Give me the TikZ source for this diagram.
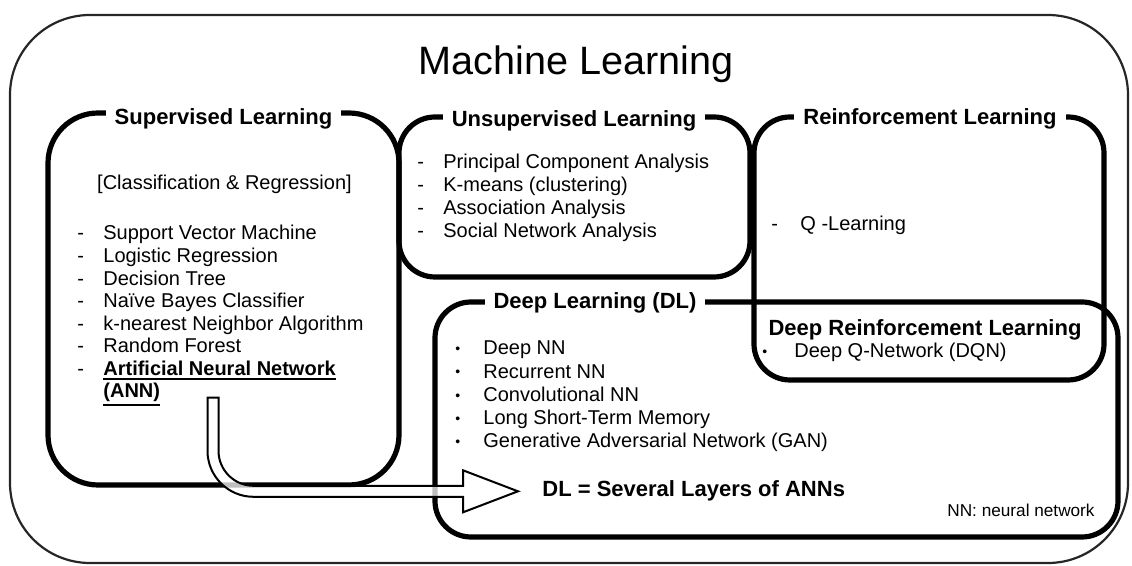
\documentclass[tikz,border=0pt]{standalone}
\usepackage{fontspec}
\setmainfont{Liberation Sans}
\usetikzlibrary{positioning,calc}

% list entries: dash or bullet in a fixed box, then the text
\newcommand{\litem}[2][13pt]{\makebox[#1][l]{-}#2}
\newcommand{\bitem}[2][14pt]{\makebox[#1][l]{\raisebox{0.6pt}{\fontsize{7}{7}\selectfont\textbullet}}#2}
% thick underline that keeps the baseline
\newcommand{\annul}[1]{\leavevmode\vtop{\hbox{#1}\kern1pt\hrule height 0.9pt}}

\begin{document}
\begin{tikzpicture}[x=0.5pt, y=-0.5pt,
    outerbox/.style={draw=black!85, line width=1.1pt, rounded corners=40pt},
    fieldbox/.style={draw=black, line width=2.6pt, rounded corners=18pt},
    heading/.style={font=\bfseries\fontsize{11}{13}\selectfont, fill=white, inner xsep=4.5pt, inner ysep=1pt, anchor=base},
    item/.style={font=\fontsize{10}{12}\selectfont, inner sep=0pt, anchor=base west},
    annarrow/.style={draw=black, line width=1pt, fill=white, fill opacity=0.75}]
    \useasboundingbox (0,0) rectangle (1132,566);

    % Machine learning frame
    \draw[outerbox] (10,15) rectangle (1128,563);
    \node[font=\fontsize{19.8}{23}\selectfont, anchor=base] (ml) at (576,75) {Machine Learning};

    % Sub-fields
    \draw[fieldbox, rounded corners=25pt] (48,113) rectangle (399,485);
    \draw[fieldbox] (399,117) rectangle (750,277);
    \draw[fieldbox] (754,117) rectangle (1104,380);
    \draw[fieldbox] (435,302) rectangle (1118,537);

    \node[heading] (sup) at (223.5,125) {Supervised Learning};
    \node[heading] (unsup) at (574,127) {Unsupervised Learning};
    \node[heading] (rl) at (930,125) {Reinforcement Learning};
    \node[heading] (dl) at (595,309) {Deep Learning (DL)};

    % Supervised methods
    \node[item, anchor=base] (cls) at (224.5,190) {[Classification \& Regression]};
    \node[item] (sl1) at (77,240) {\litem{Support Vector Machine}};
    \node[below=11.3pt of sl1.base west, item] (sl2) {\litem{Logistic Regression}};
    \node[below=11.3pt of sl2.base west, item] (sl3) {\litem{Decision Tree}};
    \node[below=11.3pt of sl3.base west, item] (sl4) {\litem{Naïve Bayes Classifier}};
    \node[below=11.3pt of sl4.base west, item] (sl5) {\litem{k-nearest Neighbor Algorithm}};
    \node[below=11.3pt of sl5.base west, item] (sl6) {\litem{Random Forest}};
    \node[below=11.3pt of sl6.base west, item] (sl7) {\litem{\bfseries\annul{Artificial Neural Network}}};
    \node[below=11pt of sl7.base west, item, xshift=13pt] (ann) {\bfseries\annul{(ANN)}};

    % Unsupervised methods
    \node[item] (ul1) at (417,169) {\litem{Principal Component Analysis}};
    \node[below=11.5pt of ul1.base west, item] (ul2) {\litem{K-means (clustering)}};
    \node[below=11.5pt of ul2.base west, item] (ul3) {\litem{Association Analysis}};
    \node[below=11.5pt of ul3.base west, item] (ul4) {\litem{Social Network Analysis}};

    % Reinforcement methods
    \node[item] (ql) at (771,231) {\litem[14.5pt]{Q -Learning}};
    \node[heading, fill=none] (drl) at (925,336) {Deep Reinforcement Learning};
    \node[item] (dqn) at (762,358) {\bitem[16pt]{Deep Q-Network (DQN)}};

    % Deep learning methods
    \node[item] (dl1) at (455,355) {\bitem{Deep NN}};
    \node[below=11.6pt of dl1.base west, item] (dl2) {\bitem{Recurrent NN}};
    \node[below=11.6pt of dl2.base west, item] (dl3) {\bitem{Convolutional NN}};
    \node[below=11.6pt of dl3.base west, item] (dl4) {\bitem{Long Short-Term Memory}};
    \node[below=11.6pt of dl4.base west, item] (dl5) {\bitem{Generative Adversarial Network (GAN)}};
    \node[item, font=\bfseries\fontsize{11}{13}\selectfont] (sum) at (542,497) {DL = Several Layers of ANNs};
    \node[item, anchor=base east, font=\fontsize{8.6}{10}\selectfont] (nn) at (1095,517) {NN: neural network};

    % ANN -> DL, hollow bent arrow
    \coordinate (annout) at ($(ann.base west)+(110,0)$);
    \coordinate (annin) at ($(sum.west)+(-24,0)$);
    \coordinate (bend) at (annout|-annin);
    \draw[annarrow] (annin) -- ($(annin)+(-55,-21)$) -- ($(annin)+(-55,-5.5)$)
        -- ($(bend)+(40.5,-5.5)$)
        .. controls ($(bend)+(21.2,-5.5)$) and ($(bend)+(5.5,-21.2)$) .. ($(bend)+(5.5,-40.5)$)
        -- ($(annout)+(5.5,0)$) -- ($(annout)+(-5.5,0)$) -- ($(bend)+(-5.5,-40.5)$)
        .. controls ($(bend)+(-5.5,-15.1)$) and ($(bend)+(15.1,5.5)$) .. ($(bend)+(40.5,5.5)$)
        -- ($(annin)+(-55,5.5)$) -- ($(annin)+(-55,21)$) -- cycle;
\end{tikzpicture}
\end{document}
